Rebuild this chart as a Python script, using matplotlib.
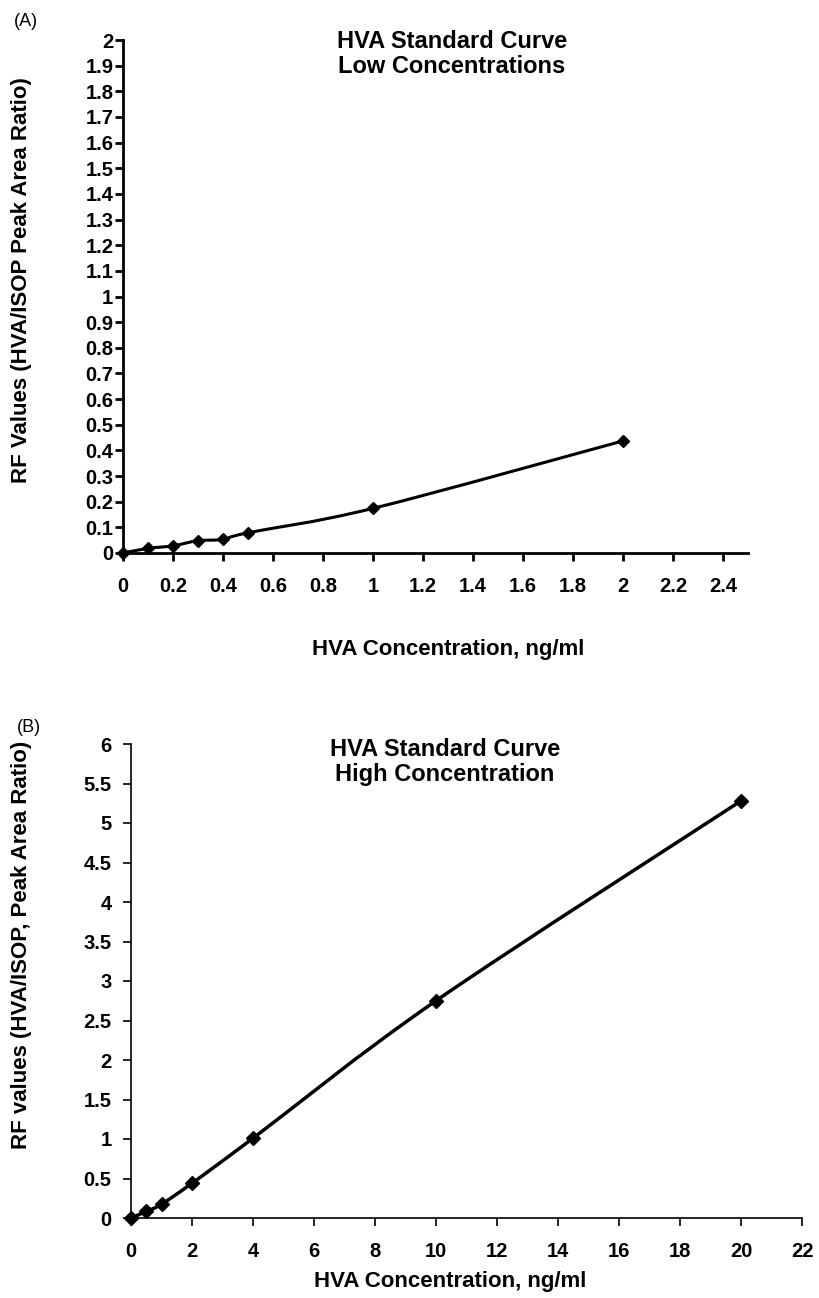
import numpy as np
import matplotlib
matplotlib.use("Agg")
import matplotlib.pyplot as plt
from matplotlib.path import Path
from matplotlib.patches import PathPatch

plt.rcParams['font.family'] = ['Liberation Sans', 'DejaVu Sans']

# ======================================================
# Data
# ======================================================
low_conc = [0, 0.1, 0.2, 0.3, 0.4, 0.5, 1, 2]
low_rf = [0, 0.018, 0.028, 0.048, 0.053, 0.079, 0.174, 0.437]

high_conc = [0, 0.5, 1, 2, 4, 10, 20]
high_rf = [0, 0.083, 0.175, 0.44, 1.01, 2.75, 5.28]

low_xticks = [0, 0.2, 0.4, 0.6, 0.8, 1, 1.2, 1.4, 1.6, 1.8, 2, 2.2, 2.4]
low_yticks = [0, 0.1, 0.2, 0.3, 0.4, 0.5, 0.6, 0.7, 0.8, 0.9, 1,
              1.1, 1.2, 1.3, 1.4, 1.5, 1.6, 1.7, 1.8, 1.9, 2]
high_xticks = [0, 2, 4, 6, 8, 10, 12, 14, 16, 18, 20, 22]
high_yticks = [0, 0.5, 1, 1.5, 2, 2.5, 3, 3.5, 4, 4.5, 5, 5.5, 6]


def fmt(v):
    return f"{v:g}"


def smooth_path(x, y):
    # Excel-like smoothed line (Catmull-Rom as cubic bezier)
    x = np.asarray(x, float)
    y = np.asarray(y, float)
    n = len(x)
    verts = [(x[0], y[0])]
    codes = [Path.MOVETO]
    for i in range(n - 1):
        i0 = max(i - 1, 0)
        i3 = min(i + 2, n - 1)
        c1 = (x[i] + (x[i + 1] - x[i0]) / 6, y[i] + (y[i + 1] - y[i0]) / 6)
        c2 = (x[i + 1] - (x[i3] - x[i]) / 6, y[i + 1] - (y[i3] - y[i]) / 6)
        verts += [c1, c2, (x[i + 1], y[i + 1])]
        codes += [Path.CURVE4] * 3
    return Path(verts, codes)


W, H = 819, 1298
fig = plt.figure(figsize=(W / 100, H / 100), dpi=100)


def px(x, y):
    return x / W, 1 - y / H


def style_axes(ax, spine_w, ypad):
    for s in ['top', 'right']:
        ax.spines[s].set_visible(False)
    for s in ['left', 'bottom']:
        ax.spines[s].set_linewidth(spine_w)
    ax.tick_params(axis='both', direction='out', length=6, width=spine_w,
                   labelsize=14.5)
    ax.tick_params(axis='x', pad=11)
    ax.tick_params(axis='y', pad=ypad)
    for lab in ax.get_xticklabels() + ax.get_yticklabels():
        lab.set_fontweight('bold')


# ======================================================
# (A) low concentrations
# ======================================================
ax1 = fig.add_axes([123 / W, 1 - 553 / H, 625 / W, 513 / H])
ax1.add_patch(PathPatch(smooth_path(low_conc, low_rf), fill=False,
                        lw=2.2, color='black', zorder=3))
ax1.plot(low_conc, low_rf, ls='none', marker='D', ms=6.5, color='black',
         zorder=4, clip_on=False)
ax1.set_xlim(0, 2.5)
ax1.set_ylim(0, 2)
ax1.set_xticks(low_xticks)
ax1.set_xticklabels([fmt(v) for v in low_xticks])
ax1.set_yticks(low_yticks)
ax1.set_yticklabels([fmt(v) for v in low_yticks])
style_axes(ax1, 2.0, 1)

fig.text(*px(452, 54), "HVA Standard Curve\nLow Concentrations", ha='center',
         va='center', fontsize=17, fontweight='bold', linespacing=1.15)
fig.text(*px(448, 650), "HVA Concentration, ng/ml", ha='center', va='center',
         fontsize=16, fontweight='bold')
fig.text(*px(22, 280), "RF Values (HVA/ISOP Peak Area Ratio)", ha='center',
         va='center', rotation=90, fontsize=16, fontweight='bold')
fig.text(*px(26, 22), "(A)", ha='center', va='center', fontsize=13)

# ======================================================
# (B) high concentrations
# ======================================================
ax2 = fig.add_axes([131 / W, 1 - 1218 / H, 671 / W, 474 / H])
ax2.add_patch(PathPatch(smooth_path(high_conc, high_rf), fill=False,
                        lw=2.5, color='black', zorder=3))
ax2.plot(high_conc, high_rf, ls='none', marker='D', ms=7.5, color='black',
         zorder=4, clip_on=False)
ax2.set_xlim(0, 22)
ax2.set_ylim(0, 6)
ax2.set_xticks(high_xticks)
ax2.set_xticklabels([fmt(v) for v in high_xticks])
ax2.set_yticks(high_yticks)
ax2.set_yticklabels([fmt(v) for v in high_yticks])
style_axes(ax2, 1.2, 8)

fig.text(*px(445, 762), "HVA Standard Curve\nHigh Concentration", ha='center',
         va='center', fontsize=17, fontweight='bold', linespacing=1.15)
fig.text(*px(450, 1282), "HVA Concentration, ng/ml", ha='center', va='center',
         fontsize=16, fontweight='bold')
fig.text(*px(22, 945), "RF values (HVA/ISOP, Peak Area Ratio)", ha='center',
         va='center', rotation=90, fontsize=16, fontweight='bold')
fig.text(*px(29, 727), "(B)", ha='center', va='center', fontsize=13)

plt.savefig("out.png", dpi=100)
plt.close()
